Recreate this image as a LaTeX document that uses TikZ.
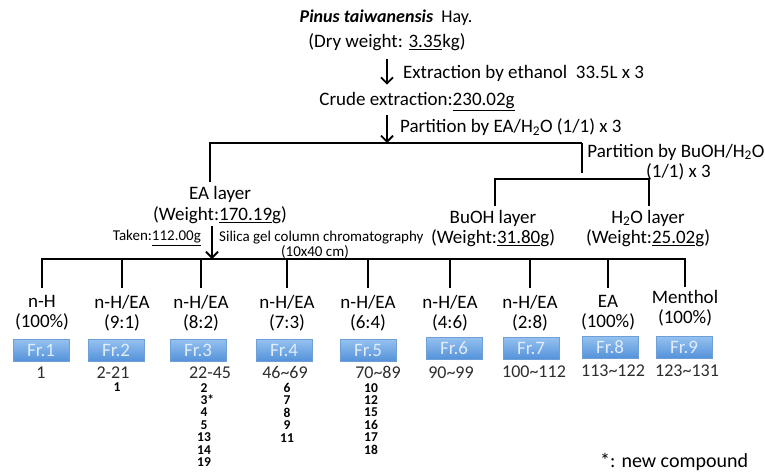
\documentclass[tikz,border=0pt]{standalone}
\usepackage{fontspec}
\setmainfont{Carlito}
\usetikzlibrary{arrows.meta,positioning}
\definecolor{frTop}{RGB}{150,194,240}
\definecolor{frBot}{RGB}{84,146,218}
\definecolor{frEdge}{RGB}{110,160,215}
\definecolor{frText}{RGB}{225,236,252}
\definecolor{rangeGray}{RGB}{45,45,45}

\tikzset{
  main/.style={font=\fontsize{19}{20.5}\selectfont, align=center, inner sep=0pt},
  small/.style={font=\fontsize{15}{16}\selectfont, inner sep=0pt},
  solv/.style={font=\fontsize{19}{20}\selectfont, align=center, inner sep=0pt},
  frbox/.style={draw=frEdge, top color=frTop, bottom color=frBot, minimum width=56pt,
    minimum height=22pt, inner sep=0pt, text=frText, font=\fontsize{19}{19}\selectfont},
  frrange/.style={font=\fontsize{18}{18}\selectfont, text=rangeGray, inner sep=0pt},
  cmpd/.style={font=\bfseries\fontsize{13.5}{12.4}\selectfont, align=center, inner sep=0pt, anchor=north},
  flow/.style={line width=1.8pt, -{Straight Barb[length=6pt,width=12pt]}},
  tree/.style={line width=1.8pt},
  drop/.style={tree, shorten >=7pt}
}

\begin{document}
\begin{tikzpicture}[x=1pt,y=-1pt]
\useasboundingbox (0,0) rectangle (765,471);

% plant material and crude extract
\node[main, font=\fontsize{18}{20}\selectfont] (plant) at (386,18) {\textbf{\textit{Pinus taiwanensis}}\ \ Hay.};
\node[main] (dry) at (387,42) {(Dry weight: \underline{3.35}kg)};
\node[main] (crude) at (417,102) {Crude extraction:\underline{230.02g}};
\draw[flow, shorten <=8pt, shorten >=8pt] (dry.south) -- (dry.south |- crude.north);
\node[main, anchor=west] (ethanol) at (403,73) {Extraction by ethanol\ \ 33.5L x 3};

% first partition
\coordinate (b1L) at (210,143);
\coordinate (b1R) at (582,143);
\coordinate (b1D) at (582,173);
\draw[flow, shorten <=4pt] (dry.south |- crude.south) -- (dry.south |- b1L);
\node[main, anchor=west] (partEA) at (400,127) {Partition by EA/H\textsubscript{2}O (1/1) x 3};
\node[main] (ea) at (220,205) {EA layer\\(Weight:\underline{170.19}g)};
\draw[tree, shorten >=4pt] (b1R) -- (b1L) -- (b1L |- ea.north);
\draw[tree] (b1R) -- (b1D);

% second partition
\node[main] (partBu) at (676,162) {Partition by BuOH/H\textsubscript{2}O\\\hspace*{5pt}(1/1) x 3};
\coordinate (b2L) at (495,179);
\coordinate (b2R) at (649,179);
\node[main] (bu) at (493,228.5) {BuOH layer\\(Weight:\underline{31.80}g)};
\node[main] (water) at (648,228.5) {H\textsubscript{2}O layer\\(Weight:\underline{25.02}g)};
\draw[tree, shorten <=4pt, shorten >=4pt] (b2L |- bu.north) -- (b2L) -- (b2R) -- (b2R |- water.north);

% column chromatography
\coordinate (b3L) at (41,259);
\coordinate (b3R) at (686,259);
\coordinate (b3A) at (212,259);
\draw[flow, shorten <=2pt] (ea.south -| b3A) -- (b3A);
\node[small, anchor=east] (taken) at (201,238) {Taken:\underline{112.00g}};
\node[small, anchor=west] (silica) at (219,238) {Silica gel column chromatography};
\node[small] (column) at (315,252) {(10x40 cm)};
\draw[tree] (b3L) -- (b3R);

% eluents
\node[solv] (s1) at (42,313) {n-H\\(100\%)};
\node[solv] (s2) at (122,313) {n-H/EA\\(9:1)};
\node[solv] (s3) at (201,313) {n-H/EA\\(8:2)};
\node[solv] (s4) at (287,313) {n-H/EA\\(7:3)};
\node[solv] (s5) at (368,313) {n-H/EA\\(6:4)};
\node[solv] (s6) at (450,313) {n-H/EA\\(4:6)};
\node[solv] (s7) at (530,313) {n-H/EA\\(2:8)};
\node[solv] (s8) at (608,313) {EA\\(100\%)};
\node[solv] (s9) at (685,308) {Menthol\\(100\%)};
\draw[drop] (s1.north |- b3L) -- (s1.north);
\draw[drop] (s2.north |- b3L) -- (s2.north);
\draw[drop] (s3.north |- b3L) -- (s3.north);
\draw[drop] (s4.north |- b3L) -- (s4.north);
\draw[drop] (s5.north |- b3L) -- (s5.north);
\draw[drop] (s6.north |- b3L) -- (s6.north);
\draw[drop] (s7.north |- b3L) -- (s7.north);
\draw[drop] (s8.north |- b3L) -- (s8.north);
\draw[drop, shorten >=3pt] (s9.north |- b3L) -- (s9.north);

% fractions
\node[frbox] (fr1) at (41,350) {Fr.1};
\node[frbox] (fr2) at (116,350) {Fr.2};
\node[frbox] (fr3) at (198,350) {Fr.3};
\node[frbox] (fr4) at (284,350) {Fr.4};
\node[frbox] (fr5) at (368,350) {Fr.5};
\node[frbox] (fr6) at (454,348) {Fr.6};
\node[frbox] (fr7) at (531,348) {Fr.7};
\node[frbox] (fr8) at (610,347) {Fr.8};
\node[frbox] (fr9) at (684,347) {Fr.9};

\node[frrange] (r1) at (41,373) {1};
\node[frrange] (r2) at (113,373) {2-21};
\node[frrange] (r3) at (210,373) {22-45};
\node[frrange] (r4) at (285,372) {46\textasciitilde 69};
\node[frrange] (r5) at (378,372) {70\textasciitilde 89};
\node[frrange] (r6) at (451,373) {90\textasciitilde 99};
\node[frrange] (r7) at (534,372) {100\textasciitilde 112};
\node[frrange] (r8) at (613,371) {113\textasciitilde 122};
\node[frrange] (r9) at (687,371) {123\textasciitilde 131};

% isolated compounds
\node[cmpd] (c2) at (117,383) {1};
\node[cmpd] (c3) at (204,383) {2\\3\rlap{*}\\4\\5\\13\\14\\19};
\node[cmpd] (c4) at (287,383) {6\\7\\8\\9\\11};
\node[cmpd] (c5) at (371,383) {10\\12\\15\\16\\17\\18};

\node[main, anchor=west, font=\fontsize{20}{22}\selectfont] (note) at (600,462) {*: new compound};
\end{tikzpicture}
\end{document}
